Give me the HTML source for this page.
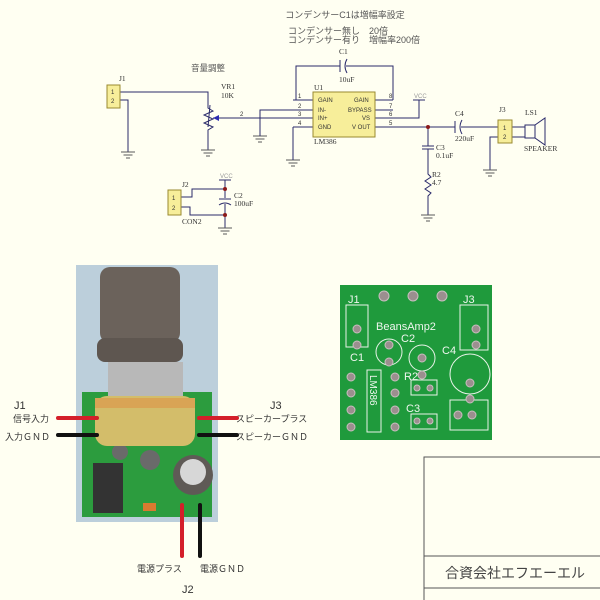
<!DOCTYPE html>
<html><head><meta charset="utf-8"><style>
body{margin:0;background:#fffff2;}
svg{display:block;font-family:"Liberation Serif","Noto Sans CJK JP",serif;}
.j{font-family:"Liberation Sans","Noto Sans CJK JP",sans-serif;}
</style></head><body>
<svg width="600" height="600" viewBox="0 0 600 600" xmlns="http://www.w3.org/2000/svg">
<rect width="600" height="600" fill="#fffff2"/>
<defs>
<g id="gnd" stroke="#5a5a5a" stroke-width="1"><line x1="-7" y1="0" x2="7" y2="0"/><line x1="-4.5" y1="3" x2="4.5" y2="3"/><line x1="-2" y1="6" x2="2" y2="6"/></g>
</defs>
<g class="j" fill="#555" font-size="9">
<text x="345" y="18" text-anchor="middle">コンデンサーC1は増幅率設定</text>
<text x="288" y="34">コンデンサー無し　20倍</text>
<text x="288" y="43">コンデンサー有り　増幅率200倍</text>
<text x="191" y="71" font-size="8.5">音量調整</text>
</g>
<g stroke="#2b2b6b" stroke-width="1" fill="none">
<polyline points="296,100 296,66 340,66"/><polyline points="346,66 393,66 393,100"/>
<line x1="340" y1="60" x2="340" y2="72"/><path d="M347,59 Q343,66 347,73"/>
<line x1="293" y1="100" x2="313" y2="100"/><line x1="288" y1="110" x2="313" y2="110"/>
<line x1="213" y1="118" x2="313" y2="118"/><line x1="293" y1="127" x2="313" y2="127"/>
<line x1="375" y1="100" x2="393" y2="100"/><line x1="375" y1="110" x2="393" y2="110"/>
<polyline points="375,118 419,118 419,100"/><line x1="413" y1="100" x2="425" y2="100"/>
<line x1="375" y1="127" x2="455" y2="127"/><line x1="461" y1="127" x2="498" y2="127"/>
<polyline points="260,128 260,110 288,110"/>
<polyline points="293,127 293,158"/>
<polyline points="120,92 208,92 208,104"/><polyline points="120,100 128,100 128,152"/>
<polyline points="208,104 208,108 213,111 204,115 213,119 204,123 213,127 208,130 208,150"/>
<line x1="208" y1="127" x2="210" y2="105"/>
<line x1="455" y1="121" x2="455" y2="133"/><path d="M462,120 Q458,127 462,134"/>
<polyline points="428,127 428,146"/><line x1="422" y1="146" x2="434" y2="146"/><line x1="422" y1="149" x2="434" y2="149"/>
<polyline points="428,149 428,174 431,177 425,181 431,185 425,189 431,193 428,196 428,215"/>
<polyline points="498,137 490,137 490,170"/>
<line x1="512" y1="127" x2="525" y2="127"/><line x1="512" y1="137" x2="525" y2="137"/>
<rect x="525" y="125" width="10" height="13"/><polygon points="535,125 545,118 545,145 535,138"/>
<polyline points="181,197 192,197 192,189 225,189 225,198"/><polyline points="181,207 190,207 190,215 225,215 225,204"/>
<line x1="225" y1="180" x2="225" y2="189"/><line x1="225" y1="215" x2="225" y2="228"/>
<line x1="219" y1="180" x2="231" y2="180"/>
<line x1="219" y1="199" x2="231" y2="199"/><path d="M219,205 Q225,201 231,205"/>
</g>
<polygon points="213,118 219,115 219,121" fill="#2b2bb0"/>
<circle cx="428" cy="127" r="2" fill="#8b1a1a"/><circle cx="225" cy="189" r="2" fill="#8b1a1a"/><circle cx="225" cy="215" r="2" fill="#8b1a1a"/>
<use href="#gnd" x="128" y="152"/><use href="#gnd" x="208" y="150"/><use href="#gnd" x="260" y="136"/>
<use href="#gnd" x="293" y="160"/><use href="#gnd" x="428" y="215"/><use href="#gnd" x="490" y="170"/><use href="#gnd" x="225" y="228"/>
<g stroke="#2b2b6b" fill="none"><line x1="260" y1="128" x2="260" y2="136"/><line x1="293" y1="158" x2="293" y2="160"/></g>
<rect x="313" y="92" width="62" height="45" fill="#f7ee9a" stroke="#9a8a30"/>
<rect x="107" y="85" width="13" height="23" fill="#f7ee9a" stroke="#9a8a30"/>
<rect x="498" y="120" width="14" height="23" fill="#f7ee9a" stroke="#9a8a30"/>
<rect x="168" y="190" width="13" height="25" fill="#f7ee9a" stroke="#9a8a30"/>
<g fill="#333" font-size="6" class="j">
<text x="318" y="102">GAIN</text><text x="354" y="102">GAIN</text>
<text x="318" y="112">IN-</text><text x="348" y="112">BYPASS</text>
<text x="318" y="120">IN+</text><text x="362" y="120">VS</text>
<text x="318" y="129">GND</text><text x="352" y="129">V OUT</text>
<text x="298" y="98">1</text><text x="298" y="108">2</text><text x="298" y="116">3</text><text x="298" y="125">4</text>
<text x="389" y="98">8</text><text x="389" y="108">7</text><text x="389" y="116">6</text><text x="389" y="125">5</text>
<text x="111" y="94">1</text><text x="111" y="103">2</text>
<text x="503" y="130">1</text><text x="503" y="139">2</text>
<text x="172" y="200">1</text><text x="172" y="210">2</text>
<text x="240" y="116">2</text>
<text x="414" y="98" fill="#999">VCC</text><text x="220" y="178" fill="#999">VCC</text>
</g>
<g fill="#333" font-size="7.5">
<text x="119" y="81">J1</text><text x="339" y="54">C1</text><text x="339" y="82">10uF</text>
<text x="314" y="90">U1</text><text x="314" y="144">LM386</text>
<text x="221" y="89">VR1</text><text x="221" y="98">10K</text>
<text x="455" y="116">C4</text><text x="455" y="141">220uF</text>
<text x="436" y="150">C3</text><text x="436" y="158">0.1uF</text>
<text x="432" y="177">R2</text><text x="432" y="185">4.7</text>
<text x="499" y="112">J3</text><text x="525" y="115">LS1</text><text x="524" y="151">SPEAKER</text>
<text x="182" y="187">J2</text><text x="182" y="224">CON2</text>
<text x="234" y="198">C2</text><text x="234" y="206">100uF</text>
</g>
<!-- photo -->
<rect x="76" y="265" width="142" height="257" fill="#bccfdb"/>
<rect x="82" y="392" width="130" height="125" fill="#2c9c3e"/>
<rect x="93" y="463" width="30" height="50" fill="#333"/>
<circle cx="193" cy="475" r="20" fill="#5f5a56"/><circle cx="193" cy="472" r="13" fill="#d7d7d7"/>
<circle cx="120" cy="452" r="8" fill="#6a6a6a"/><circle cx="150" cy="460" r="10" fill="#6a6a6a"/>
<rect x="143" y="503" width="13" height="8" fill="#d97a30"/>
<rect x="100" y="267" width="80" height="76" rx="10" fill="#6b625b"/>
<rect x="97" y="338" width="86" height="24" rx="8" fill="#5e5650"/>
<rect x="108" y="362" width="75" height="38" fill="#b8b8b8"/>
<rect x="95" y="396" width="100" height="50" rx="12" fill="#d3bd6a"/>
<rect x="95" y="398" width="100" height="10" fill="#d9a455"/>
<g stroke-width="4" stroke-linecap="round">
<line x1="58" y1="418" x2="97" y2="418" stroke="#d41f2a"/><line x1="58" y1="435" x2="97" y2="435" stroke="#111"/>
<line x1="199" y1="418" x2="237" y2="418" stroke="#d41f2a"/><line x1="199" y1="435" x2="237" y2="435" stroke="#111"/>
<line x1="182" y1="505" x2="182" y2="556" stroke="#d41f2a"/><line x1="200" y1="505" x2="200" y2="556" stroke="#111"/>
</g>
<g class="j" fill="#333" font-size="9">
<text x="14" y="409" font-size="11">J1</text><text x="13" y="422">信号入力</text><text x="5" y="440">入力ＧＮＤ</text>
<text x="270" y="409" font-size="11">J3</text><text x="236" y="422">スピーカープラス</text><text x="236" y="440">スピーカーＧＮＤ</text>
<text x="137" y="572">電源プラス</text><text x="200" y="572">電源ＧＮＤ</text><text x="182" y="593" font-size="11">J2</text>
</g>
<!-- PCB -->
<rect x="340" y="285" width="152" height="155" fill="#1f9a3c"/>
<g stroke="#e8f3e8" stroke-width="1" fill="none">
<rect x="346" y="305" width="22" height="42"/><rect x="460" y="305" width="28" height="45"/>
<circle cx="389" cy="352" r="13"/><circle cx="422" cy="358" r="13"/><circle cx="470" cy="374" r="20"/>
<rect x="367" y="370" width="14" height="62"/><rect x="411" y="380" width="26" height="15"/><rect x="411" y="414" width="26" height="15"/><rect x="450" y="400" width="38" height="30"/>
</g>
<g fill="#9b8f8f" stroke="#c9bfbf">
<circle cx="384" cy="296" r="5"/><circle cx="413" cy="296" r="5"/><circle cx="442" cy="296" r="5"/>
<circle cx="357" cy="329" r="4"/><circle cx="357" cy="345" r="4"/><circle cx="476" cy="329" r="4"/><circle cx="476" cy="345" r="4"/>
<circle cx="389" cy="345" r="4"/><circle cx="389" cy="362" r="4"/><circle cx="422" cy="358" r="4"/><circle cx="422" cy="375" r="4"/>
<circle cx="470" cy="383" r="4"/><circle cx="470" cy="399" r="4"/>
<circle cx="351" cy="393" r="4"/><circle cx="351" cy="410" r="4"/><circle cx="351" cy="427" r="4"/>
<circle cx="351" cy="377" r="4"/><circle cx="395" cy="377" r="4"/><circle cx="395" cy="393" r="4"/><circle cx="395" cy="410" r="4"/><circle cx="395" cy="427" r="4"/>
<circle cx="417" cy="388" r="3"/><circle cx="430" cy="388" r="3"/><circle cx="417" cy="421" r="3"/><circle cx="430" cy="421" r="3"/>
<circle cx="458" cy="415" r="4"/><circle cx="472" cy="415" r="4"/>
</g>
<g class="j" fill="#eef6ee" font-size="11">
<text x="348" y="303">J1</text><text x="463" y="303">J3</text><text x="376" y="330">BeansAmp2</text>
<text x="401" y="342">C2</text><text x="442" y="354">C4</text><text x="350" y="361">C1</text>
<text x="404" y="380">R2</text><text x="406" y="412">C3</text>
<text x="370" y="375" transform="rotate(90 370 375)" font-size="10">LM386</text>
</g>
<!-- title block -->
<g stroke="#555" fill="none"><polyline points="424,600 424,457 600,457"/><line x1="424" y1="556" x2="600" y2="556"/><line x1="424" y1="588" x2="600" y2="588"/></g>
<text x="445" y="578" class="j" fill="#444" font-size="14">合資会社エフエーエル</text>
</svg>
</body></html>
